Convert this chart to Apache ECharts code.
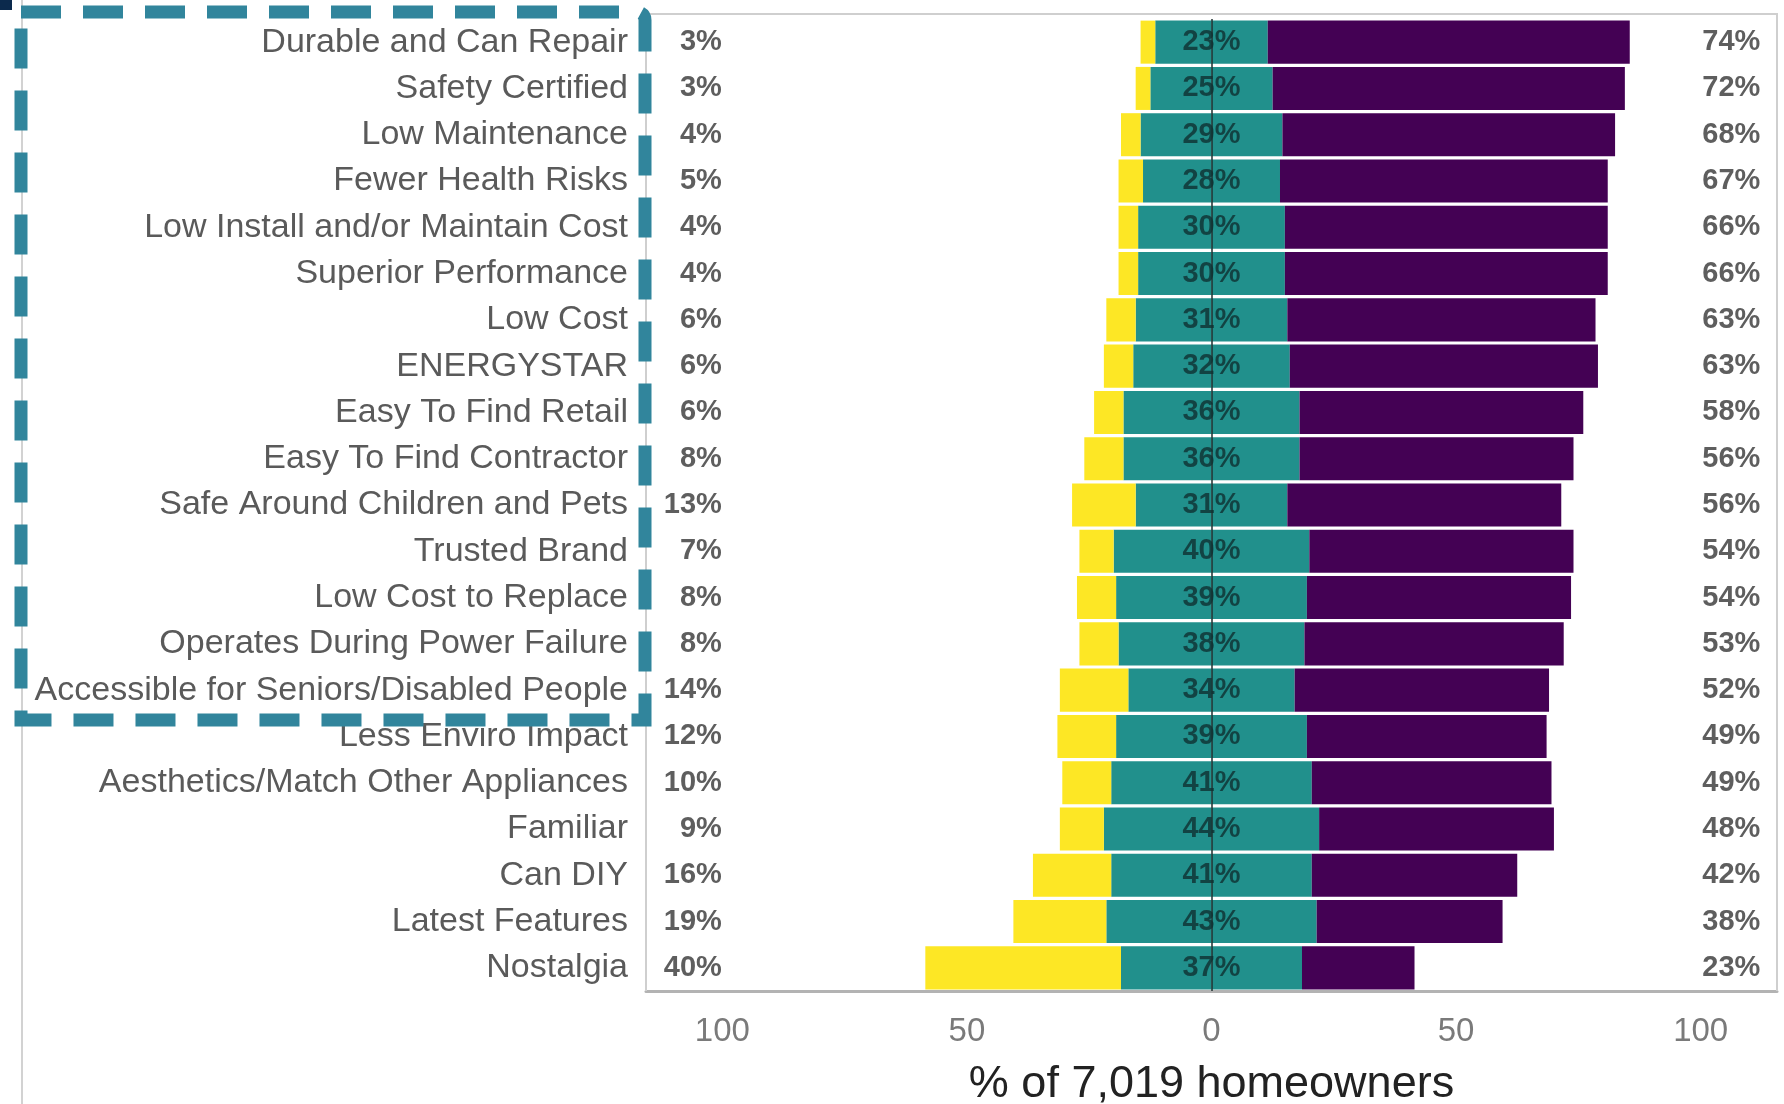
<!DOCTYPE html>
<html>
<head>
<meta charset="utf-8">
<script src="https://cdn.jsdelivr.net/npm/echarts@6/dist/echarts.min.js"></script>
<style>
html,body{margin:0;padding:0;background:#fff;}
#chart{width:1784px;height:1104px;}
</style>
</head>
<body>
<div id="chart"></div>
<script>
// ---- data ----
const categories = [
  "Durable and Can Repair","Safety Certified","Low Maintenance","Fewer Health Risks",
  "Low Install and/or Maintain Cost","Superior Performance","Low Cost","ENERGYSTAR",
  "Easy To Find Retail","Easy To Find Contractor","Safe Around Children and Pets",
  "Trusted Brand","Low Cost to Replace","Operates During Power Failure",
  "Accessible for Seniors/Disabled People","Less Enviro Impact",
  "Aesthetics/Match Other Appliances","Familiar","Can DIY","Latest Features","Nostalgia"
];
const yellowVals = [3,3,4,5,4,4,6,6,6,8,13,7,8,8,14,12,10,9,16,19,40];
const tealVals   = [23,25,29,28,30,30,31,32,36,36,31,40,39,38,34,39,41,44,41,43,37];
const purpleVals = [74,72,68,67,66,66,63,63,58,56,56,54,54,53,52,49,49,48,42,38,23];
const tickValues = [-100,-50,0,50,100];
const xTitle = "% of 7,019 homeowners";

// ---- settings ----
const X_MIN = -115.6, X_MAX = 115.6;
const LEFT_LABEL_X = -100, RIGHT_LABEL_X = 112.3;
const C_YELLOW = '#FDE725', C_TEAL = '#21908C', C_PURPLE = '#440154';
const pctFont = {fontFamily:'"Liberation Sans Narrow","Liberation Sans",Arial,sans-serif', fontWeight:'bold'};

const chart = echarts.init(document.getElementById('chart'), null, {renderer:'canvas'});

const tealNeg = tealVals.map(v => -v/2);
const tealPos = tealVals.map(v => v/2);
const yellowNeg = yellowVals.map(v => -v);

function labelScatter(name, xpos, vals, pos, color, size) {
  return {
    name, type:'scatter', z:6,
    symbolSize:1, itemStyle:{color:'rgba(0,0,0,0)'},
    silent:true,
    data: categories.map((c,i)=>({value:[xpos, c], pct: vals[i]})),
    label:{
      show:true, position:pos, distance:0,
      formatter: p => p.data.pct + '%',
      color, ...pctFont, fontSize:size
    }
  };
}

const barCommon = {type:'bar', stack:'all', barCategoryGap:'7%', silent:true};

chart.setOption({
  backgroundColor:'#ffffff',
  animation:false,
  grid:{left:646, right:7, top:19, bottom:113, show:false, containLabel:false, outerBoundsMode:'none'},
  xAxis:{
    type:'value', min:X_MIN, max:X_MAX,
    splitLine:{show:false},
    axisTick:{show:false},
    axisLine:{show:true, onZero:false, lineStyle:{color:'#b3b3b3', width:3}},
    axisLabel:{
      customValues: tickValues,
      formatter: v => String(Math.abs(v)),
      color:'#7a7a7a', fontSize:33, margin:24,
      fontFamily:'"Liberation Sans",Arial,sans-serif'
    },
    name: xTitle, nameLocation:'middle', nameGap:71,
    nameTextStyle:{fontSize:45, color:'#222', fontFamily:'"Liberation Sans",Arial,sans-serif'}
  },
  yAxis:{
    type:'category', data:categories, inverse:true,
    axisLine:{show:false}, axisTick:{show:false}, splitLine:{show:false},
    axisLabel:{fontSize:34, color:'#5a5a5a', margin:18, fontFamily:'"Liberation Sans",Arial,sans-serif'}
  },
  series:[
    {...barCommon, name:'tealNeg', data:tealNeg, itemStyle:{color:C_TEAL}},
    {...barCommon, name:'tealPos', data:tealPos, itemStyle:{color:C_TEAL}},
    {...barCommon, name:'yellow', data:yellowNeg, itemStyle:{color:C_YELLOW}},
    {...barCommon, name:'purple', data:purpleVals, itemStyle:{color:C_PURPLE},
      markLine:{silent:true, symbol:'none', z:4, label:{show:false},
        lineStyle:{color:'#1f3030', width:1.5, type:'solid'},
        data:[{xAxis:0}]}
    },
    labelScatter('leftLbl', LEFT_LABEL_X, yellowVals, 'left', '#363636', 29),
    labelScatter('midLbl', 0, tealVals, 'inside', '#0f2f31', 29),
    labelScatter('rightLbl', RIGHT_LABEL_X, purpleVals, 'left', '#363636', 29)
  ],
  graphic:[
    {type:'line', z:1, shape:{x1:22,y1:0,x2:22,y2:1104}, style:{stroke:'#d2d2d2', lineWidth:2}},
    {type:'polyline', z:1, shape:{points:[[646,991],[646,14],[1777,14],[1777,991]]},
      style:{fill:null, stroke:'#cfcfcf', lineWidth:2}},
    {type:'rect', z:10, shape:{x:21,y:12,width:624,height:708,r:[0,8,0,0]},
      style:{fill:null, stroke:'#31859c', lineWidth:13, lineDash:[40,22]}},
    {type:'rect', z:11, shape:{x:0,y:0,width:12,height:10}, style:{fill:'#0c2a4d'}}
  ]
});
</script>
</body>
</html>
